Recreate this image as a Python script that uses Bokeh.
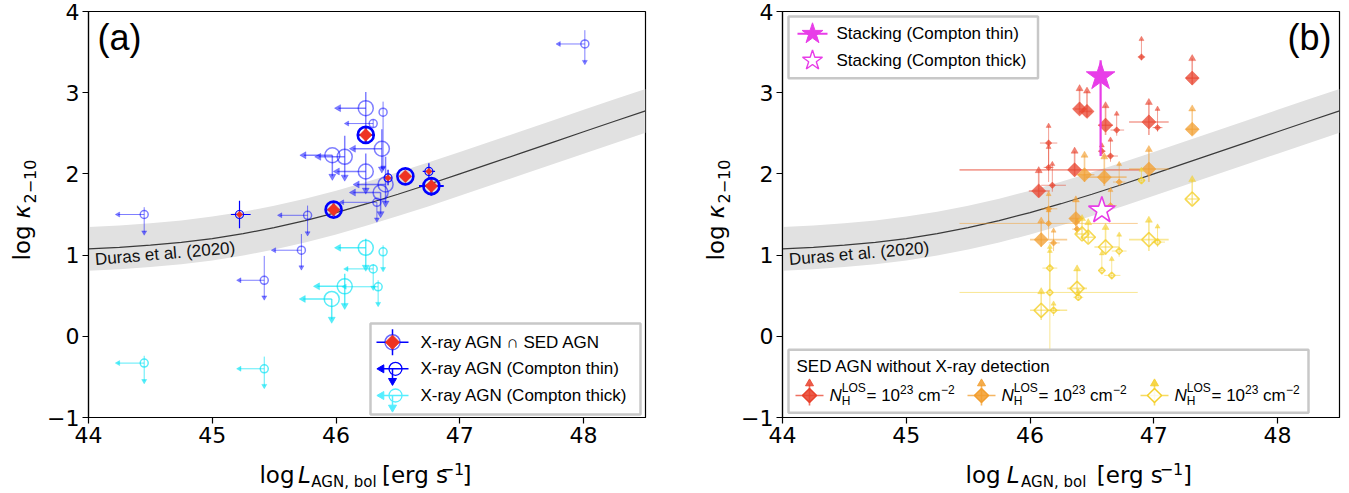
import numpy as np
from bokeh.plotting import figure
from bokeh.models import Label, Range1d, FixedTicker, ColumnDataSource
from bokeh.layouts import row, column
from bokeh.embed import file_html
from bokeh.resources import INLINE

# ---------------- data ----------------
x_ticks = [44, 45, 46, 47, 48]
x_tick_labels = ["44", "45", "46", "47", "48"]
y_ticks = [-1, 0, 1, 2, 3, 4]
y_tick_labels = ["\u22121", "0", "1", "2", "3", "4"]

# Duras et al. (2020) relation, read at quarter-dex steps
duras_logL = [44.0, 44.25, 44.5, 44.75, 45.0, 45.25, 45.5, 45.75, 46.0, 46.25,
              46.5, 46.75, 47.0, 47.25, 47.5, 47.75, 48.0, 48.25, 48.5]
duras_logk = [1.077, 1.096, 1.122, 1.157, 1.204, 1.264, 1.338, 1.425, 1.524, 1.633,
              1.750, 1.873, 2.000, 2.129, 2.259, 2.389, 2.519, 2.648, 2.776]
duras_scatter = 0.27

# Panel (a): X-ray AGN  intersect  SED AGN
both_x = [46.24, 45.98, 46.56, 46.77, 45.22, 46.75, 46.42]
both_y = [2.48, 1.56, 1.97, 1.85, 1.50, 2.03, 1.95]
both_xlo = [46.17, 45.93, 46.52, 46.67, 45.15, 46.70, 46.39]
both_xhi = [46.31, 46.03, 46.60, 46.87, 45.31, 46.80, 46.45]
both_ylo = [2.39, 1.48, 1.92, 1.73, 1.33, 1.93, 1.86]
both_yhi = [2.58, 1.64, 2.02, 1.96, 1.67, 2.13, 2.05]
both_big = [1, 1, 1, 1, 0, 0, 0]

# Panel (a): X-ray AGN (Compton thin)
thin_x = [46.24, 46.38, 46.30, 45.97, 46.07, 46.37, 46.24, 46.36, 46.40, 46.33, 45.77, 44.45, 45.72, 45.42, 48.01]
thin_y = [2.81, 2.76, 2.62, 2.23, 2.21, 2.31, 2.03, 1.77, 1.87, 1.65, 1.49, 1.50, 1.06, 0.69, 3.60]
thin_xlo = [46.02, 46.38, 46.09, 45.74, 45.86, 46.14, 46.01, 46.14, 46.17, 46.05, 45.55, 44.24, 45.50, 45.22, 47.80]
thin_ylo = [2.50, 2.08, 2.57, 1.97, 1.96, 2.06, 1.80, 1.51, 1.64, 1.44, 1.27, 1.28, 0.85, 0.48, 3.38]
thin_yhi = [3.01, 2.89, 2.67, 2.23, 2.47, 2.55, 2.25, 1.77, 2.21, 1.65, 1.61, 1.59, 1.26, 0.99, 3.77]
thin_big = [1, 0, 0, 1, 1, 1, 1, 1, 1, 0, 0, 0, 0, 0, 0]
thin_xlim = [1, 0, 1, 1, 1, 1, 1, 1, 1, 1, 1, 1, 1, 1, 1]
thin_ylim = [0, 1, 0, 1, 1, 1, 1, 1, 1, 1, 1, 1, 1, 1, 1]

# Panel (a): X-ray AGN (Compton thick)
thick_x = [46.24, 46.38, 46.30, 46.34, 46.07, 45.965, 44.45, 45.42]
thick_y = [1.09, 1.04, 0.83, 0.61, 0.615, 0.46, -0.33, -0.40]
thick_xlo = [46.02, 46.38, 46.085, 46.07, 45.85, 45.735, 44.24, 45.22]
thick_ylo = [0.85, 0.83, 0.60, 0.40, 0.38, 0.21, -0.55, -0.61]
thick_yhi = [1.20, 1.12, 0.89, 0.69, 0.77, 0.46, -0.24, -0.25]
thick_big = [1, 0, 0, 0, 1, 1, 0, 0]
thick_xlim = [1, 0, 1, 1, 1, 1, 1, 1]
thick_ylim = [1, 1, 1, 1, 1, 1, 1, 1]

# Panel (b): SED AGN without X-ray detection (lower limits)
red_x = [46.90, 47.31, 46.40, 46.46, 46.61, 46.96, 46.70, 47.03, 46.15, 46.65, 46.58, 46.36, 46.15, 46.07, 46.18]
red_y = [3.44, 3.18, 2.80, 2.77, 2.60, 2.64, 2.54, 2.57, 2.38, 2.22, 2.28, 2.05, 2.08, 1.79, 1.86]
red_xlo = [46.87, 47.26, 46.36, 46.42, 46.55, 46.80, 46.65, 46.99, 46.08, 46.59, 46.55, 45.43, 46.11, 45.99, 46.09]
red_xhi = [46.93, 47.36, 46.44, 46.50, 46.67, 47.12, 46.76, 47.07, 46.22, 46.71, 46.61, 46.89, 46.19, 46.16, 46.29]
red_ylo = [3.40, 3.10, 2.74, 2.70, 2.48, 2.48, 2.47, 2.52, 2.07, 2.15, 2.22, 1.98, 1.90, 1.72, 1.78]
red_yhi = [3.66, 3.42, 3.05, 3.02, 2.84, 2.88, 2.74, 2.80, 2.59, 2.42, 2.35, 2.28, 2.33, 2.04, 2.12]
red_big = [0, 1, 1, 1, 1, 1, 0, 0, 0, 0, 0, 1, 0, 1, 0]

org_x = [47.31, 46.96, 46.60, 46.44, 46.72, 46.37, 46.65, 46.15, 46.09, 46.15, 46.19, 46.38]
org_y = [2.55, 2.06, 1.96, 1.99, 1.90, 1.45, 1.61, 1.57, 1.19, 1.39, 1.15, 1.32]
org_xlo = [47.26, 46.80, 46.45, 46.38, 46.67, 46.32, 46.60, 46.09, 46.00, 45.43, 46.15, 46.34]
org_xhi = [47.36, 47.12, 46.78, 46.52, 46.77, 46.43, 46.70, 46.22, 46.30, 46.87, 46.24, 46.42]
org_ylo = [2.48, 1.90, 1.85, 1.90, 1.85, 1.30, 1.55, 1.40, 1.10, 1.20, 1.05, 1.25]
org_yhi = [2.80, 2.30, 2.21, 2.23, 2.12, 1.68, 1.80, 1.75, 1.42, 1.55, 1.30, 1.42]
org_big = [1, 1, 1, 1, 0, 1, 0, 0, 1, 0, 0, 0]

yel_x = [47.31, 46.96, 46.61, 46.42, 46.47, 46.72, 47.03, 46.58, 46.66, 46.16, 46.38, 46.16, 46.09, 46.19, 46.39, 46.90]
yel_y = [1.69, 1.19, 1.10, 1.26, 1.22, 1.05, 1.16, 0.81, 0.75, 0.84, 0.59, 0.54, 0.32, 0.32, 0.48, 1.92]
yel_xlo = [47.26, 46.80, 46.52, 46.37, 46.42, 46.66, 46.98, 46.55, 46.60, 46.10, 46.30, 45.43, 46.00, 46.15, 46.35, 46.87]
yel_xhi = [47.36, 47.12, 46.72, 46.47, 46.53, 46.78, 47.09, 46.61, 46.73, 46.22, 46.46, 46.87, 46.30, 46.24, 46.43, 46.93]
yel_ylo = [1.62, 1.05, 1.00, 1.20, 1.15, 0.98, 1.10, 0.76, 0.70, 0.55, 0.50, -0.18, 0.20, 0.25, 0.45, 1.88]
yel_yhi = [1.93, 1.43, 1.34, 1.45, 1.40, 1.25, 1.35, 1.02, 0.95, 1.10, 0.83, 1.05, 0.55, 0.40, 0.55, 2.05]
yel_big = [1, 1, 1, 1, 1, 0, 0, 0, 0, 0, 1, 0, 1, 0, 0, 0]

# Panel (b): stacking
stack_labels = ["Stacking (Compton thin)", "Stacking (Compton thick)"]
stack_x = [46.57, 46.58]
stack_y = [3.20, 1.55]
stack_ylo = [2.22, 1.48]
stack_yhi = [3.40, 1.68]

legend_a = ["X-ray AGN \u2229 SED AGN", "X-ray AGN (Compton thin)", "X-ray AGN (Compton thick)"]
legend_b_title = "SED AGN without X-ray detection"

# ---------------- styling / helpers ----------------
FW, FH = 557, 406
X0, X1, Y0, Y1 = 44.0, 48.5, -1.0, 4.0
REF_FX = {"a": 88.0, "b": 782.0}
SANS = "Liberation Sans"
DV = "DejaVu Sans"
BLUE = "#0000ff"
CYAN = "#00e2f4"
RED_A = "#ee3322"
RED = "#e8412c"
ORANGE = "#f29e2e"
YELLOW = "#f4cf2a"
MAG = "#e83de8"
LEFT_B, TOP_B, BOT_B = 44, 11, 40
YL_W, XL_H = 44, 34
TOTAL_H = TOP_B + FH + BOT_B + XL_H
MAIN_SCALE = (FW / (X1 - X0), FH / (Y1 - Y0))
UNIT_SCALE = (1.0, 1.0)


def dx(ox, panel):
    return X0 + (ox - REF_FX[panel]) * (X1 - X0) / FW


def dy(oy):
    return Y1 - (oy - TOP_B) * (Y1 - Y0) / FH


def txt(p, x, y, s, size, font=SANS, style="normal", align="left", angle=0.0,
        color="black", scale=MAIN_SCALE):
    # (x, y) is the start of the text baseline; convert to the centre line
    sh = 0.35 * size
    xc = x - sh * np.sin(angle) / scale[0]
    yc = y + sh * np.cos(angle) / scale[1]
    p.add_layout(Label(x=xc, y=yc, text=s, text_font=font, text_font_size=f"{size}px",
                       text_font_style=style, text_align=align, text_baseline="middle",
                       angle=angle, text_color=color))


def make_fig(right):
    p = figure(width=LEFT_B + FW + right, height=TOP_B + FH + BOT_B,
               x_range=Range1d(X0, X1), y_range=Range1d(Y0, Y1),
               output_backend="svg", toolbar_location=None,
               min_border_left=LEFT_B, min_border_right=right,
               min_border_top=TOP_B, min_border_bottom=BOT_B)
    p.xgrid.visible = False
    p.ygrid.visible = False
    p.outline_line_color = "black"
    p.outline_line_width = 1.2
    p.outline_line_alpha = 1.0
    p.background_fill_color = "white"
    p.border_fill_color = "white"
    for ax, ticks, labs in ((p.xaxis[0], x_ticks, x_tick_labels), (p.yaxis[0], y_ticks, y_tick_labels)):
        ax.ticker = FixedTicker(ticks=ticks, minor_ticks=[])
        ax.major_label_overrides = {t: l for t, l in zip(ticks, labs)}
        ax.axis_line_color = "black"
        ax.axis_line_width = 1.2
        ax.major_tick_line_color = "black"
        ax.major_tick_line_width = 1.2
        ax.major_tick_out = 6
        ax.major_tick_in = 0
        ax.minor_tick_out = 0
        ax.minor_tick_in = 0
        ax.major_label_text_font = DV
        ax.major_label_text_font_size = "22px"
        ax.major_label_text_color = "black"
        ax.major_label_standoff = 3
    return p


def label_fig(w, h):
    f = figure(width=w, height=h, x_range=Range1d(0, w), y_range=Range1d(0, h),
               output_backend="svg", toolbar_location=None, min_border=0,
               x_axis_location=None, y_axis_location=None)
    f.xgrid.visible = False
    f.ygrid.visible = False
    f.outline_line_color = None
    f.background_fill_color = "white"
    f.border_fill_color = "white"
    return f


def x_label_fig(width):
    # pixel coordinates: x from the left edge of the column, y up from the bottom
    f = label_fig(width, XL_H)
    s = 199.5
    pieces = [("log", 0, 8, 23, "normal"), ("L", 45, 8, 23, "italic"),
              ("AGN, bol", 60.5, 4, 15, "normal"), ("[erg s", 143, 8, 23, "normal"),
              ("\u22121", 211.5, 17, 16, "normal"), ("]", 237, 8, 23, "normal")]
    for t, off, yy, sz, st in pieces:
        txt(f, s + off, yy, t, sz, font=DV, style=st, scale=UNIT_SCALE)
    return f


def y_label_fig():
    f = label_fig(YL_W, TOTAL_H)
    bx = 30
    y0 = TOTAL_H - 260
    txt(f, bx, y0, "log", 23, font=DV, angle=np.pi / 2, scale=UNIT_SCALE)
    txt(f, bx, y0 + 42, "\u03ba", 23, font=DV, style="italic", angle=np.pi / 2, scale=UNIT_SCALE)
    txt(f, bx + 5, y0 + 57, "2\u221210", 16, font=DV, angle=np.pi / 2, scale=UNIT_SCALE)
    return f


def duras(p, panel):
    lo = [v - duras_scatter for v in duras_logk]
    hi = [v + duras_scatter for v in duras_logk]
    p.varea(x=duras_logL, y1=lo, y2=hi, fill_color="#e1e1e1")
    p.line(duras_logL, duras_logk, line_color="#3a3a3a", line_width=1.2)
    txt(p, dx(REF_FX[panel] + 7, panel), dy(265), "Duras et al. (2020)", 17, angle=0.084, color="#111111")


def errbars(p, x, y, xlo, xhi, ylo, yhi, big, color, alpha, wbig, wsmall):
    w = [wbig if b else wsmall for b in big]
    src = ColumnDataSource(dict(x=x, y=y, xlo=xlo, xhi=xhi, ylo=ylo, yhi=yhi, w=w))
    p.segment(x0="xlo", y0="y", x1="xhi", y1="y", source=src, line_color=color,
              line_alpha=alpha, line_width="w")
    p.segment(x0="x", y0="ylo", x1="x", y1="yhi", source=src, line_color=color,
              line_alpha=alpha, line_width="w")


def arrows(p, xs, ys, flags, big, kind, color, alpha):
    idx = [i for i, f in enumerate(flags) if f]
    if not idx:
        return
    marker = {"up": "triangle", "down": "inverted_triangle", "left": "triangle"}[kind]
    ang = np.pi / 2 if kind == "left" else 0.0
    p.scatter([xs[i] for i in idx], [ys[i] for i in idx], marker=marker, angle=ang,
              size=[7 if big[i] else 5 for i in idx], fill_color=color, line_color=color,
              fill_alpha=alpha, line_alpha=alpha, line_width=0.5)


# ---------------- panel (a) ----------------
pa = make_fig(49)
duras(pa, "a")

for (gx, gy, gxlo, gylo, gyhi, gbig, gxl, gyl, col, al) in (
        (thin_x, thin_y, thin_xlo, thin_ylo, thin_yhi, thin_big, thin_xlim, thin_ylim, BLUE, 0.5),
        (thick_x, thick_y, thick_xlo, thick_ylo, thick_yhi, thick_big, thick_xlim, thick_ylim, CYAN, 0.65)):
    errbars(pa, gx, gy, gxlo, gx, gylo, gyhi, gbig, col, al, 1.5, 1.0)
    arrows(pa, gxlo, gy, gxl, gbig, "left", col, al)
    arrows(pa, gx, gylo, gyl, gbig, "down", col, al)
    pa.scatter(gx, gy, marker="circle", size=[15 if b else 8 for b in gbig], fill_color=None,
               line_color=col, line_alpha=al, line_width=1.5)

errbars(pa, both_x, both_y, both_xlo, both_xhi, both_ylo, both_yhi, both_big, BLUE, 1.0, 2.0, 1.2)
pa.scatter(both_x, both_y, marker="circle", size=[16 if b else 8 for b in both_big], fill_color=None,
           line_color=BLUE, line_width=[2.6 if b else 1.2 for b in both_big])
pa.scatter(both_x, both_y, marker="square", angle=np.pi / 4, size=[9 if b else 4.5 for b in both_big],
           fill_color=RED_A, line_color=RED_A, line_width=0.5)

# legend (a)
pa.quad(left=dx(370, "a"), right=dx(640, "a"), top=dy(323), bottom=dy(414),
        fill_color="white", line_color="#c8c8c8", line_width=2.5)
rows_a = [341.7, 368.3, 395.0]
gx_a = 392.0
oy = rows_a[0]
pa.segment(x0=[dx(gx_a - 16, "a"), dx(gx_a, "a")], y0=[dy(oy), dy(oy - 13)],
           x1=[dx(gx_a + 16, "a"), dx(gx_a, "a")], y1=[dy(oy), dy(oy + 13)], line_color=BLUE, line_width=1.5)
pa.scatter([dx(gx_a, "a")], [dy(oy)], marker="circle", size=15, fill_color=None, line_color=BLUE,
           line_alpha=0.6, line_width=1.5)
pa.scatter([dx(gx_a, "a")], [dy(oy)], marker="square", angle=np.pi / 4, size=10, fill_color=RED_A,
           line_color=RED_A)
for oy, col in ((rows_a[1], BLUE), (rows_a[2], "#55eeff")):
    pa.segment(x0=[dx(gx_a - 11, "a"), dx(gx_a, "a")], y0=[dy(oy), dy(oy)],
               x1=[dx(gx_a + 16, "a"), dx(gx_a, "a")], y1=[dy(oy), dy(oy + 12)], line_color=col, line_width=1.5)
    pa.scatter([dx(gx_a - 11, "a")], [dy(oy)], marker="triangle", angle=np.pi / 2, size=8,
               fill_color=col, line_color=col)
    pa.scatter([dx(gx_a, "a")], [dy(oy + 12)], marker="inverted_triangle", size=8,
               fill_color=col, line_color=col)
    pa.scatter([dx(gx_a + 3, "a")], [dy(oy)], marker="circle", size=13, fill_color=None,
               line_color=col, line_width=1.3)
for oy, t in zip(rows_a, legend_a):
    txt(pa, dx(420, "a"), dy(oy + 6), t, 17)

txt(pa, dx(97, "a"), dy(50), "(a)", 36)

# ---------------- panel (b) ----------------
pb = make_fig(6)
duras(pb, "b")

for (gx, gy, gxlo, gxhi, gylo, gyhi, gbig, col, filled) in (
        (red_x, red_y, red_xlo, red_xhi, red_ylo, red_yhi, red_big, RED, True),
        (org_x, org_y, org_xlo, org_xhi, org_ylo, org_yhi, org_big, ORANGE, True),
        (yel_x, yel_y, yel_xlo, yel_xhi, yel_ylo, yel_yhi, yel_big, YELLOW, False)):
    errbars(pb, gx, gy, gxlo, gxhi, gylo, gyhi, gbig, col, 0.5, 1.6, 1.0)
    arrows(pb, gx, gyhi, [1] * len(gx), gbig, "up", col, 0.65)
    pb.scatter(gx, gy, marker="square", angle=np.pi / 4, size=[10 if b else 4.5 for b in gbig],
               fill_color=col if filled else None, fill_alpha=0.75, line_color=col,
               line_alpha=0.8, line_width=1.6 if not filled else 0.5)

pb.segment(x0=stack_x, y0=stack_ylo, x1=stack_x, y1=stack_yhi, line_color=MAG, line_width=[2.2, 1.2])
pb.scatter(stack_x[:1], stack_y[:1], marker="star", size=30, fill_color=MAG, line_color=MAG)
pb.scatter(stack_x[1:], stack_y[1:], marker="star", size=28, fill_color="white", line_color=MAG, line_width=1.6)

# legend (b) top
pb.quad(left=dx(788, "b"), right=dx(1037.5, "b"), top=dy(16), bottom=dy(77.7),
        fill_color="white", line_color="#c8c8c8", line_width=2.5)
pb.segment(x0=[dx(797, "b")], y0=[dy(33.3)], x1=[dx(827, "b")], y1=[dy(33.3)], line_color=MAG, line_width=2)
pb.scatter([dx(812, "b")], [dy(33.3)], marker="star", size=22, fill_color=MAG, line_color=MAG)
pb.scatter([dx(812, "b")], [dy(60)], marker="star", size=21, fill_color="white", line_color=MAG, line_width=1.4)
for oy, t in zip((33.3, 60.0), stack_labels):
    txt(pb, dx(836, "b"), dy(oy + 6), t, 17)

# legend (b) bottom
pb.quad(left=dx(788, "b"), right=dx(1308, "b"), top=dy(349.3), bottom=dy(412.3),
        fill_color="white", line_color="#c8c8c8", line_width=2.5)
txt(pb, dx(796, "b"), dy(372), legend_b_title, 17)
oy = 395.0
for gcx, tx0, col, filled in ((809, 829, RED, True), (981, 1001, ORANGE, True), (1154, 1174, YELLOW, False)):
    pb.segment(x0=[dx(gcx - 14, "b"), dx(gcx, "b")], y0=[dy(oy), dy(oy - 11)],
               x1=[dx(gcx + 14, "b"), dx(gcx, "b")], y1=[dy(oy), dy(oy + 10)],
               line_color=col, line_alpha=0.75, line_width=1.6)
    pb.scatter([dx(gcx, "b")], [dy(oy - 12)], marker="triangle", size=8, fill_color=col,
               line_color=col, fill_alpha=0.85, line_alpha=0.85)
    pb.scatter([dx(gcx, "b")], [dy(oy)], marker="square", angle=np.pi / 4, size=10,
               fill_color=col if filled else "white", fill_alpha=0.85, line_color=col, line_width=1.5)
    b = oy + 6
    txt(pb, dx(tx0, "b"), dy(b), "N", 17, style="italic")
    txt(pb, dx(tx0 + 12.3, "b"), dy(b + 4), "H", 12)
    txt(pb, dx(tx0 + 12.3, "b"), dy(b - 9), "LOS", 12)
    txt(pb, dx(tx0 + 37, "b"), dy(b), "= 10", 17)
    txt(pb, dx(tx0 + 70.5, "b"), dy(b - 8), "23", 12)
    txt(pb, dx(tx0 + 88.5, "b"), dy(b), "cm", 17)
    txt(pb, dx(tx0 + 111.5, "b"), dy(b - 8), "\u22122", 12)

txt(pb, dx(1331, "b"), dy(50), "(b)", 36, align="right")

layout = row(y_label_fig(), column(pa, x_label_fig(pa.width)),
             y_label_fig(), column(pb, x_label_fig(pb.width)))
open("out.html", "w").write(file_html(layout, INLINE))
